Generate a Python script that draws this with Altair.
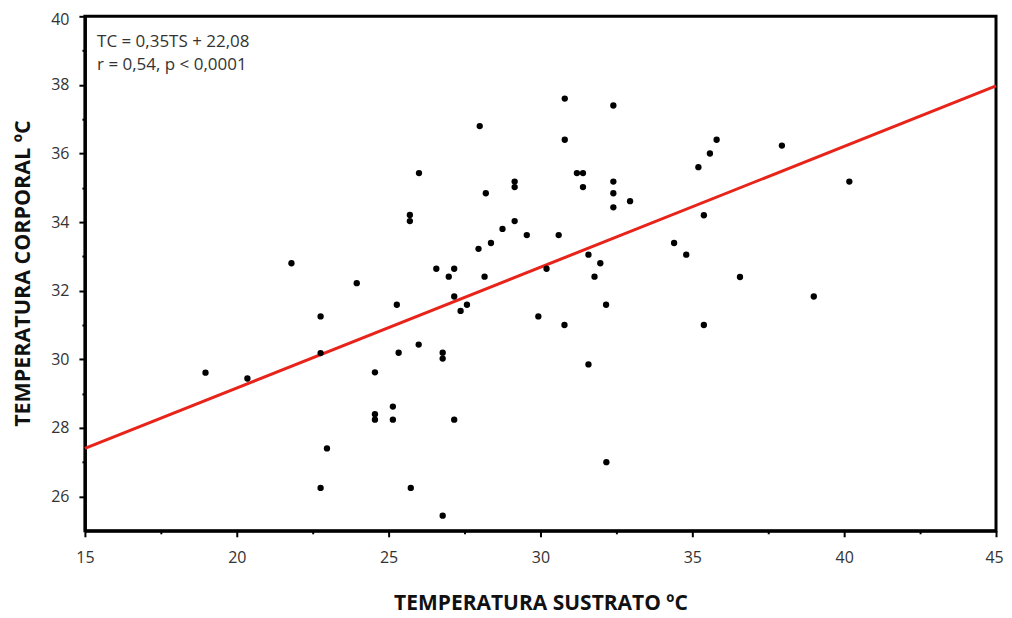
import altair as alt
import pandas as pd

# Substrate temperature (x) and body temperature (y)
ts = [30.8, 32.4, 28.0, 30.8, 35.2, 26.0, 31.2, 31.4, 32.4, 29.15,
      29.15, 31.4, 28.2, 32.4, 32.95, 32.4, 25.7, 25.7, 29.15, 28.75,
      29.55, 30.6, 34.4, 28.37, 27.96, 34.8, 31.58, 31.97, 26.57, 27.16,
      30.2, 26.98, 28.16, 31.78, 23.95, 27.16, 25.27, 27.58, 32.16, 27.37,
      22.76, 29.93, 21.8, 35.8, 35.58, 37.95, 40.17, 35.38, 36.57, 39.0,
      22.76, 18.97, 20.35, 22.97, 22.76, 30.79, 25.99, 25.33, 26.78, 26.78,
      31.58, 24.55, 25.14, 24.55, 24.55, 25.14, 27.16, 32.17, 25.73, 26.78,
      35.38]
tc = [37.6, 37.4, 36.8, 36.4, 35.6, 35.43, 35.43, 35.43, 35.18, 35.18,
      35.02, 35.02, 34.84, 34.84, 34.61, 34.43, 34.21, 34.03, 34.03, 33.8,
      33.62, 33.62, 33.39, 33.39, 33.22, 33.05, 33.05, 32.8, 32.64, 32.64,
      32.64, 32.41, 32.41, 32.41, 32.22, 31.83, 31.59, 31.59, 31.59, 31.41,
      31.25, 31.25, 32.8, 36.4, 36.0, 36.23, 35.18, 34.2, 32.4, 31.83,
      30.18, 29.61, 29.44, 27.4, 26.25, 31.0, 30.43, 30.19, 30.19, 30.02,
      29.85, 29.62, 28.62, 28.4, 28.24, 28.24, 28.24, 27.0, 26.25, 25.44,
      31.0]

# Regression line end points as drawn
line_x = [15, 45]
line_y = [27.4, 37.97]

# Annotation lines and their anchor positions (data units)
annot = ["TC = 0,35TS + 22,08", "r = 0,54, p < 0,0001"]
annot_x = [15.4, 15.4]
annot_y = [39.24, 38.57]

x_ticks = [15, 17.5, 20, 22.5, 25, 27.5, 30, 32.5, 35, 37.5, 40, 42.5, 45]
y_ticks = [26, 27, 28, 29, 30, 31, 32, 33, 34, 35, 36, 37, 38, 39, 40]

pts = pd.DataFrame({"ts": ts, "tc": tc})
ln = pd.DataFrame({"ts": line_x, "tc": line_y})
tx = pd.DataFrame({"t": annot, "ts": annot_x, "tc": annot_y})

LABEL_FONT = "Open Sans"
TITLE_FONT = "Open Sans"

xscale = alt.Scale(domain=[15, 45], nice=False, zero=False)
yscale = alt.Scale(domain=[25, 40], nice=False, zero=False)

xaxis = alt.Axis(
    title="TEMPERATURA SUSTRATO ºC",
    values=x_ticks,
    labelExpr="datum.value % 5 == 0 ? datum.label : ''",
    labelFlush=False,
    labelOffset={"condition": {"test": "datum.value == 45", "value": -2}, "value": 0},
    grid=False,
    domainColor="black", domainWidth=3,
    tickColor="black", tickWidth=2,
    tickSize={"condition": {"test": "datum.value % 5 != 0", "value": 3}, "value": 6},
    labelPadding=13, labelFont=LABEL_FONT, labelFontSize=16, labelColor="#333333",
    titleFont=TITLE_FONT, titleFontSize=21, titleFontWeight="bold", titleColor="#111111",
    titleY=73, titleBaseline="middle",
)
yaxis = alt.Axis(
    title="TEMPERATURA CORPORAL ºC",
    values=y_ticks,
    labelExpr="datum.value % 2 == 0 ? datum.label : ''",
    grid=False,
    domainColor="black", domainWidth=3,
    tickColor="black", tickWidth=2,
    tickSize={"condition": {"test": "datum.value % 2 != 0", "value": 3}, "value": 6},
    labelPadding=10, labelFont=LABEL_FONT, labelFontSize=16, labelColor="#333333",
    labelOffset={"condition": {"test": "datum.value == 40", "value": 3}, "value": 0},
    titleFont=TITLE_FONT, titleFontSize=21.5, titleFontWeight="bold", titleColor="#111111",
    titleX=-61, titleY=257, titleBaseline="middle", titleAngle=270, titleAlign="center",
)

X = alt.X("ts:Q", scale=xscale, axis=xaxis)
Y = alt.Y("tc:Q", scale=yscale, axis=yaxis)

line = alt.Chart(ln).mark_line(color="#e8231a", strokeWidth=3).encode(x=X, y=Y)

points = alt.Chart(pts).mark_circle(size=40, color="black", opacity=1).encode(x=X, y=Y)

text = alt.Chart(tx).mark_text(
    align="left", baseline="middle", font=LABEL_FONT, fontSize=17, color="#333333"
).encode(x=X, y=Y, text="t:N")

chart = alt.layer(line, points, text).properties(
    width=912,
    height=515,
    autosize=alt.AutoSizeParams(type="none"),
    padding={"left": 77, "top": 8, "right": 8, "bottom": 85},
).configure_view(stroke="black", strokeWidth=3)

chart.save("out.html", embed_options={"renderer": "svg", "actions": False})
